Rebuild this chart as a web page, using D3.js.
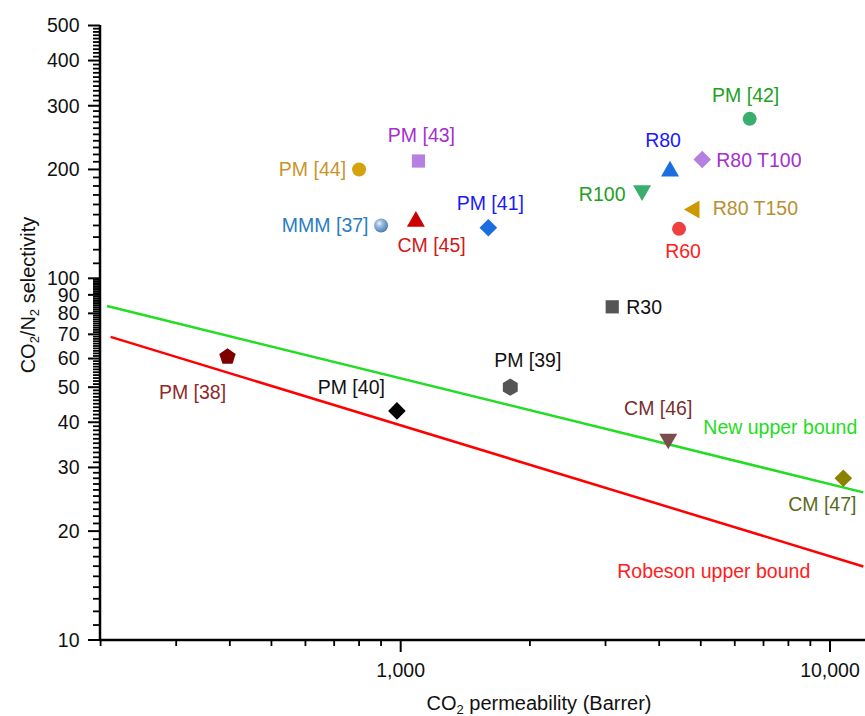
<!DOCTYPE html>
<html>
<head>
<meta charset="utf-8">
<script src="https://cdn.jsdelivr.net/npm/d3@7"></script>
<style>
  html, body { margin: 0; padding: 0; background: #fff; }
  svg { display: block; font-family: Arial, "Liberation Sans", sans-serif; }
</style>
</head>
<body>
<svg id="chart" width="865" height="716"></svg>
<script>
// Membrane data: CO2 permeability (Barrer) and CO2/N2 selectivity
const names = ["PM [44]", "PM [43]", "MMM [37]", "CM [45]", "PM [41]", "PM [42]",
  "R80", "R80 T100", "R100", "R80 T150", "R60", "R30",
  "PM [38]", "PM [40]", "PM [39]", "CM [46]", "CM [47]"];
const permeability = [800, 1100, 900, 1085, 1600, 6500,
  4240, 5040, 3650, 4763, 4450, 3110,
  395, 980, 1800, 4200, 10740];
const selectivity = [200, 211, 140, 146, 138, 276,
  201, 213, 172, 155, 137, 83.4,
  61, 43, 50, 35.4, 28];

// Upper-bound lines (end points)
const newBoundP = [207, 11956];
const newBoundSel = [83.8, 25.6];
const robesonP = [211, 11956];
const robesonSel = [68.9, 15.97];

// Axis tick labels
const yTickValues = [10, 20, 30, 40, 50, 60, 70, 80, 90, 100, 200, 300, 400, 500];
const xTickValues = [1000, 10000];

// Marker styles: shape, fill, label colour
const markerStyle = [
  ["circle", "#d4a20c", "#c8962a"],
  ["square", "#b580e0", "#a52fd0"],
  ["sphere", "#6f9ccc", "#2b7dc0"],
  ["triUp", "#cc0000", "#d01818"],
  ["diamond", "#1c6ee0", "#1a1aff"],
  ["circle", "#3aae6c", "#22a022"],
  ["triUp", "#1c6ee0", "#1a1aff"],
  ["diamond", "#b580e0", "#a52fd0"],
  ["triDown", "#3aae6c", "#22a022"],
  ["triLeft", "#cc9a00", "#b89030"],
  ["circle", "#ee4040", "#ff2020"],
  ["square", "#555555", "#111111"],
  ["pentagon", "#7f0000", "#8e2a2a"],
  ["diamond", "#000000", "#111111"],
  ["hexagon", "#555555", "#111111"],
  ["triDown", "#7a4e4e", "#7a2e2e"],
  ["diamond", "#8c8200", "#5b6a22"]
];

// Label placement relative to each marker: anchor, dx, dy (px)
const labelPlacement = [
  ["end", -13, 7], ["middle", 3, -19], ["end", -12.5, 7], ["middle", 15.7, 33],
  ["middle", 2, -18], ["middle", -4, -17], ["middle", -7, -21.6], ["start", 14, 7],
  ["end", -16.6, 7.5], ["start", 21, 5.3], ["middle", 4, 29], ["start", 14, 7],
  ["middle", -35, 43], ["middle", -45.6, -16.7], ["middle", 17.5, -20.6],
  ["middle", -10, -26.2], ["middle", -21, 33]
];

const svg = d3.select("#chart");
const FONT = 19.5;

const x = d3.scaleLog().domain([200, 12000]).range([100.6, 864.0]);
const y = d3.scaleLog().domain([10, 500]).range([640, 25.5]);

// Shape paths centred on (0,0)
function shapePath(kind) {
  const p = d3.path();
  if (kind === "square") {
    const h = 6.6; p.rect(-h, -h, 2 * h, 2 * h);
  } else if (kind === "diamond") {
    const r = 8.8; p.moveTo(0, -r); p.lineTo(r, 0); p.lineTo(0, r); p.lineTo(-r, 0); p.closePath();
  } else if (kind === "triUp") {
    const w = 9, h = 7.8; p.moveTo(0, -h); p.lineTo(w, h); p.lineTo(-w, h); p.closePath();
  } else if (kind === "triDown") {
    const w = 9, h = 7.8; p.moveTo(0, h); p.lineTo(w, -h); p.lineTo(-w, -h); p.closePath();
  } else if (kind === "triLeft") {
    const w = 7.8, h = 9; p.moveTo(-w, 0); p.lineTo(w, -h); p.lineTo(w, h); p.closePath();
  } else if (kind === "pentagon" || kind === "hexagon") {
    const n = kind === "pentagon" ? 5 : 6, r = kind === "pentagon" ? 8.6 : 8.6;
    for (let i = 0; i < n; i++) {
      const a = -Math.PI / 2 + i * 2 * Math.PI / n;
      const px = r * Math.cos(a), py = r * Math.sin(a) + (kind === "pentagon" ? 0.8 : 0);
      if (i === 0) p.moveTo(px, py); else p.lineTo(px, py);
    }
    p.closePath();
  } else {
    p.arc(0, 0, 7, 0, 2 * Math.PI);
  }
  return p.toString();
}

// Gradient for the shaded sphere marker
const defs = svg.append("defs");
const grad = defs.append("radialGradient").attr("id", "ballGrad")
  .attr("cx", "38%").attr("cy", "35%").attr("r", "65%");
grad.append("stop").attr("offset", "0%").attr("stop-color", "#eef4fb");
grad.append("stop").attr("offset", "35%").attr("stop-color", "#9dbde0");
grad.append("stop").attr("offset", "100%").attr("stop-color", "#4f7fb5");

// Upper-bound lines
const line = d3.line().x(d => x(d[0])).y(d => y(d[1]));
svg.append("path")
  .attr("d", line(newBoundP.map((p, i) => [p, newBoundSel[i]])))
  .attr("fill", "none").attr("stroke", "#22dd22").attr("stroke-width", 2.5);
svg.append("path")
  .attr("d", line(robesonP.map((p, i) => [p, robesonSel[i]])))
  .attr("fill", "none").attr("stroke", "#ff0000").attr("stroke-width", 2.5);

svg.append("text").attr("x", x(5069)).attr("y", y(37.1))
  .attr("font-size", FONT).attr("fill", "#22dd22").text("New upper bound");
svg.append("text").attr("x", x(3195)).attr("y", y(14.8))
  .attr("font-size", FONT).attr("fill", "#ff2020").text("Robeson upper bound");

// Axes
const axisG = svg.append("g").attr("stroke", "#000");
// y axis
axisG.append("line").attr("x1", 100).attr("x2", 100).attr("y1", 25).attr("y2", 641)
  .attr("stroke-width", 2.5);
const yMinor = [];
for (let v = 11; v < 100; v++) if (v % 10 !== 0) yMinor.push(v);
for (let v = 110; v < 500; v += 10) if (v % 100 !== 0) yMinor.push(v);
axisG.selectAll("line.ymin").data(yMinor).join("line").attr("class", "ymin")
  .attr("x1", 93).attr("x2", 100).attr("y1", d => y(d)).attr("y2", d => y(d))
  .attr("stroke-width", 1.8);
axisG.selectAll("line.ymaj").data(yTickValues).join("line").attr("class", "ymaj")
  .attr("x1", 88).attr("x2", 100).attr("y1", d => y(d)).attr("y2", d => y(d))
  .attr("stroke-width", 2);
svg.selectAll("text.ytick").data(yTickValues).join("text").attr("class", "ytick")
  .attr("x", 79.5).attr("y", d => y(d)).attr("dy", "0.35em")
  .attr("text-anchor", "end").attr("font-size", FONT).attr("fill", "#111")
  .text(d => d);

// x axis
axisG.append("line").attr("x1", 99).attr("x2", 865).attr("y1", 640).attr("y2", 640)
  .attr("stroke-width", 2.5);
const xMinor = [];
for (let v = 200; v < 1000; v += 100) xMinor.push(v);
for (let v = 2000; v < 10000; v += 1000) xMinor.push(v);
axisG.selectAll("line.xmin").data(xMinor).join("line").attr("class", "xmin")
  .attr("x1", d => x(d)).attr("x2", d => x(d)).attr("y1", 640).attr("y2", 646)
  .attr("stroke-width", 1.8);
axisG.selectAll("line.xmaj").data(xTickValues).join("line").attr("class", "xmaj")
  .attr("x1", d => x(d)).attr("x2", d => x(d)).attr("y1", 640).attr("y2", 652)
  .attr("stroke-width", 2);
svg.selectAll("text.xtick").data(xTickValues).join("text").attr("class", "xtick")
  .attr("x", d => x(d)).attr("y", 677)
  .attr("text-anchor", "middle").attr("font-size", FONT).attr("fill", "#111")
  .text(d => d3.format(",")(d));

// Axis titles
const xt = svg.append("text").attr("x", 539).attr("y", 710)
  .attr("text-anchor", "middle").attr("font-size", 20).attr("fill", "#111");
xt.append("tspan").text("CO");
xt.append("tspan").attr("font-size", 13).attr("dy", 4).text("2");
xt.append("tspan").attr("dy", -4).text(" permeability (Barrer)");

const yt = svg.append("text").attr("transform", "translate(35,295) rotate(-90)")
  .attr("text-anchor", "middle").attr("font-size", 20).attr("fill", "#111");
yt.append("tspan").text("CO");
yt.append("tspan").attr("font-size", 13).attr("dy", 4).text("2");
yt.append("tspan").attr("dy", -4).text("/N");
yt.append("tspan").attr("font-size", 13).attr("dy", 4).text("2");
yt.append("tspan").attr("dy", -4).text(" selectivity");

// Markers and labels
const pts = names.map((n, i) => ({
  name: n, p: permeability[i], s: selectivity[i],
  shape: markerStyle[i][0], fill: markerStyle[i][1], labelColor: markerStyle[i][2],
  anchor: labelPlacement[i][0], dx: labelPlacement[i][1], dy: labelPlacement[i][2]
}));

const g = svg.append("g");
g.selectAll("path.mark").data(pts).join("path").attr("class", "mark")
  .attr("transform", d => `translate(${x(d.p)},${y(d.s)})`)
  .attr("d", d => shapePath(d.shape))
  .attr("fill", d => d.shape === "sphere" ? "url(#ballGrad)" : d.fill);

g.selectAll("text.lbl").data(pts).join("text").attr("class", "lbl")
  .attr("x", d => x(d.p) + d.dx).attr("y", d => y(d.s) + d.dy)
  .attr("text-anchor", d => d.anchor).attr("font-size", FONT)
  .attr("fill", d => d.labelColor).text(d => d.name);
</script>
</body>
</html>
